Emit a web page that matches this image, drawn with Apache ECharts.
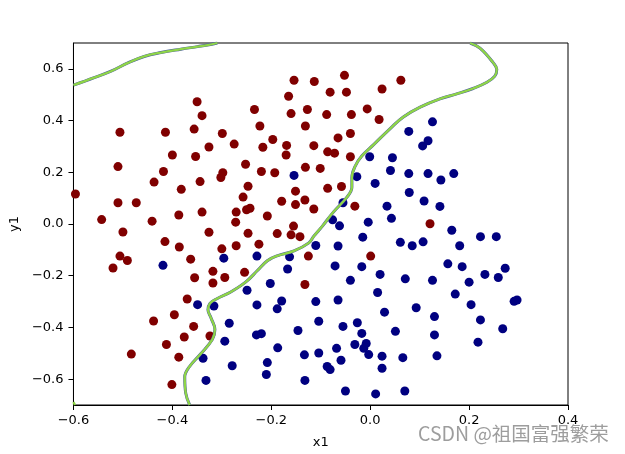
<!DOCTYPE html>
<html>
<head>
<meta charset="utf-8">
<script src="https://cdn.jsdelivr.net/npm/echarts@6/dist/echarts.min.js"></script>
<style>html,body{margin:0;padding:0;background:#fff}#c{width:625px;height:454px}</style>
</head>
<body>
<div id="c"></div>
<script>
// Class 0 (dark red) points
const redX = [-0.154,-0.113,-0.165,-0.350,-0.160,-0.127,-0.234,-0.340,-0.223,-0.131,-0.506,-0.414,-0.356,-0.299,-0.275,-0.197,-0.326,-0.217,-0.169,-0.114,-0.400,-0.353,-0.170,-0.252,-0.510,-0.418,-0.220,-0.193,-0.131,-0.101,-0.298,-0.302,-0.437,-0.344,-0.247,-0.151,-0.382,-0.596,-0.257,-0.179,-0.132,-0.510,-0.473,-0.151,-0.114,-0.243,-0.250,-0.271,-0.340,-0.387,-0.208,-0.543,-0.441,-0.272,-0.155,-0.500,-0.326,-0.247,-0.188,-0.160,-0.142,-0.415,-0.386,-0.300,-0.271,-0.225,-0.506,-0.491,-0.520,-0.363,-0.125,-0.318,-0.254,-0.355,-0.294,-0.318,-0.132,-0.370,-0.396,-0.438,-0.357,-0.376,-0.324,-0.412,-0.483,-0.387,-0.401,-0.052,0.062,-0.081,-0.048,0.024,-0.088,-0.038,-0.006,0.018,-0.040,-0.065,-0.086,-0.072,-0.040,-0.086,-0.058,-0.031,0.121,0.001];
const redY = [0.556,0.551,0.494,0.473,0.427,0.443,0.443,0.419,0.379,0.379,0.355,0.355,0.367,0.350,0.309,0.327,0.298,0.297,0.304,0.303,0.267,0.261,0.267,0.231,0.222,0.203,0.203,0.198,0.219,0.215,0.198,0.180,0.162,0.164,0.146,0.127,0.134,0.116,0.104,0.088,0.093,0.082,0.082,0.075,0.058,0.061,0.055,0.046,0.046,0.035,0.031,0.017,0.011,0.007,-0.008,-0.031,-0.032,-0.036,-0.037,-0.042,-0.049,-0.068,-0.089,-0.096,-0.084,-0.078,-0.124,-0.141,-0.170,-0.136,-0.124,-0.183,-0.187,-0.208,-0.207,-0.228,-0.234,-0.290,-0.351,-0.375,-0.396,-0.437,-0.433,-0.466,-0.503,-0.515,-0.621,0.575,0.556,0.510,0.510,0.522,0.423,0.423,0.445,0.404,0.350,0.333,0.279,0.274,0.260,0.138,0.145,0.069,0.001,-0.124];
// Class 1 (navy) points
const blueX = [-0.154,-0.110,-0.419,-0.296,-0.229,-0.163,-0.167,-0.202,-0.249,-0.349,-0.316,-0.229,-0.179,-0.188,-0.110,-0.285,-0.104,-0.146,-0.230,-0.220,-0.294,-0.187,-0.338,-0.133,-0.104,-0.208,-0.279,-0.210,-0.332,-0.132,0.126,0.078,0.117,0.106,-0.001,0.045,0.041,0.078,0.117,0.169,0.143,-0.027,0.010,0.079,0.109,0.141,0.034,-0.055,-0.076,-0.062,-0.004,0.043,0.165,-0.065,-0.015,0.061,0.085,0.107,0.181,0.223,0.255,-0.071,-0.017,0.020,0.071,0.126,0.157,0.186,0.200,0.232,0.259,0.273,-0.040,0.015,0.172,0.204,0.291,0.297,-0.065,0.029,0.093,0.130,0.223,0.268,-0.055,-0.026,-0.017,0.051,0.130,0.218,-0.031,-0.008,-0.013,-0.003,-0.068,-0.059,0.024,0.066,0.135,0.024,-0.087,-0.081,-0.050,0.011,0.070];
const blueY = [0.188,-0.083,-0.160,-0.132,-0.124,-0.127,-0.174,-0.230,-0.256,-0.312,-0.317,-0.313,-0.298,-0.328,-0.300,-0.384,-0.376,-0.412,-0.429,-0.424,-0.453,-0.479,-0.519,-0.506,-0.499,-0.536,-0.548,-0.582,-0.605,-0.605,0.395,0.358,0.322,0.302,0.260,0.256,0.207,0.195,0.195,0.195,0.170,0.183,0.157,0.122,0.089,0.068,0.069,0.082,0.016,-0.007,0.007,0.022,-0.024,-0.085,-0.051,-0.071,-0.084,-0.069,-0.084,-0.049,-0.049,-0.162,-0.165,-0.195,-0.212,-0.218,-0.154,-0.165,-0.225,-0.195,-0.207,-0.171,-0.218,-0.265,-0.271,-0.312,-0.299,-0.294,-0.294,-0.341,-0.324,-0.358,-0.371,-0.405,-0.396,-0.382,-0.423,-0.415,-0.429,-0.457,-0.466,-0.462,-0.481,-0.505,-0.481,-0.527,-0.511,-0.517,-0.510,-0.558,-0.551,-0.563,-0.646,-0.657,-0.646];
// Decision boundary
const boundaryAX = [-0.365,-0.373,-0.375,-0.366,-0.343,-0.319,-0.314,-0.322,-0.328,-0.324,-0.309,-0.282,-0.252,-0.228,-0.208,-0.188,-0.154,-0.124,-0.114,-0.097,-0.074,-0.047,-0.037,-0.037,-0.030,-0.017,0.007,0.041,0.067,0.101,0.141,0.175,0.208,0.235,0.252,0.256,0.249,0.222,0.202];
const boundaryAY = [-0.700,-0.654,-0.591,-0.553,-0.503,-0.446,-0.408,-0.363,-0.332,-0.307,-0.288,-0.263,-0.225,-0.180,-0.142,-0.123,-0.104,-0.073,-0.047,-0.009,0.047,0.104,0.142,0.180,0.225,0.263,0.307,0.370,0.414,0.452,0.484,0.503,0.524,0.547,0.572,0.598,0.623,0.680,0.700];
const boundaryBX = [-0.600,-0.558,-0.524,-0.490,-0.457,-0.423,-0.383,-0.349,-0.329,-0.309];
const boundaryBY = [0.537,0.566,0.591,0.623,0.648,0.663,0.676,0.686,0.692,0.700];
const boundaryCX = [-0.600,-0.597];
const boundaryCY = [-0.688,-0.700];
const xTicks = [-0.6,-0.4,-0.2,0.0,0.2,0.4];
const yTicks = [-0.6,-0.4,-0.2,0.0,0.2,0.4,0.6];
const xName = 'x1', yName = 'y1';
const watermark = 'CSDN @祖国富强繁荣';

const zip = (a, b) => a.map((v, i) => [v, b[i]]);
const fmt = v => (Math.abs(v) < 1e-9 ? '0.0' : v.toFixed(1).replace('-', '\u2212'));
const FONT = 'DejaVu Sans';

const chart = echarts.init(document.getElementById('c'), null, {renderer: 'canvas'});
const lineUnder = {color: '#4a5b9e', width: 3.0};
const lineOver = {color: '#8fd548', width: 2.3};
function boundary(xs, ys, style, z) {
  return {type: 'line', data: zip(xs, ys), smooth: 0.4, showSymbol: false, symbol: 'none',
    lineStyle: style, z: z, silent: true, clip: true, animation: false};
}
chart.setOption({
  animation: false,
  backgroundColor: '#fff',
  grid: {left: 72, right: 57, top: 43, bottom: 42, show: true, borderColor: '#000', borderWidth: 1, backgroundColor: 'transparent'},
  xAxis: {
    type: 'value', min: -0.6, max: 0.4,
    name: xName, nameLocation: 'middle', nameGap: 31,
    nameTextStyle: {fontFamily: FONT, fontSize: 13, color: '#000'},
    axisLine: {show: true, onZero: false, lineStyle: {color: '#000', width: 1}},
    axisTick: {show: true, length: 5, inside: false, customValues: xTicks, lineStyle: {color: '#000'}},
    axisLabel: {customValues: xTicks, formatter: fmt, margin: 9, fontFamily: FONT, fontSize: 13, color: '#000'},
    splitLine: {show: false}
  },
  yAxis: {
    type: 'value', min: -0.7, max: 0.7,
    name: yName, nameLocation: 'middle', nameGap: 50, nameRotate: 90,
    nameTextStyle: {fontFamily: FONT, fontSize: 13, color: '#000'},
    axisLine: {show: true, onZero: false, lineStyle: {color: '#000', width: 1}},
    axisTick: {show: true, length: 5, inside: false, customValues: yTicks, lineStyle: {color: '#000'}},
    axisLabel: {customValues: yTicks, formatter: fmt, margin: 10, fontFamily: FONT, fontSize: 13, color: '#000'},
    splitLine: {show: false}
  },
  series: [
    {type: 'scatter', data: zip(redX, redY), symbolSize: 9, itemStyle: {color: '#800000', opacity: 1}, z: 2},
    {type: 'scatter', data: zip(blueX, blueY), symbolSize: 9, itemStyle: {color: '#000080', opacity: 1}, z: 2},
    boundary(boundaryAX, boundaryAY, lineUnder, 3),
    boundary(boundaryAX, boundaryAY, lineOver, 4),
    boundary(boundaryBX, boundaryBY, lineUnder, 3),
    boundary(boundaryBX, boundaryBY, lineOver, 4),
    boundary(boundaryCX, boundaryCY, lineOver, 4)
  ],
  graphic: [{
    type: 'text', left: 418, top: 424, z: 100,
    style: {text: watermark, fontFamily: 'Noto Sans CJK SC', fontSize: 19.5, fill: 'rgba(140,140,140,0.85)'}
  }]
});
</script>
</body>
</html>
